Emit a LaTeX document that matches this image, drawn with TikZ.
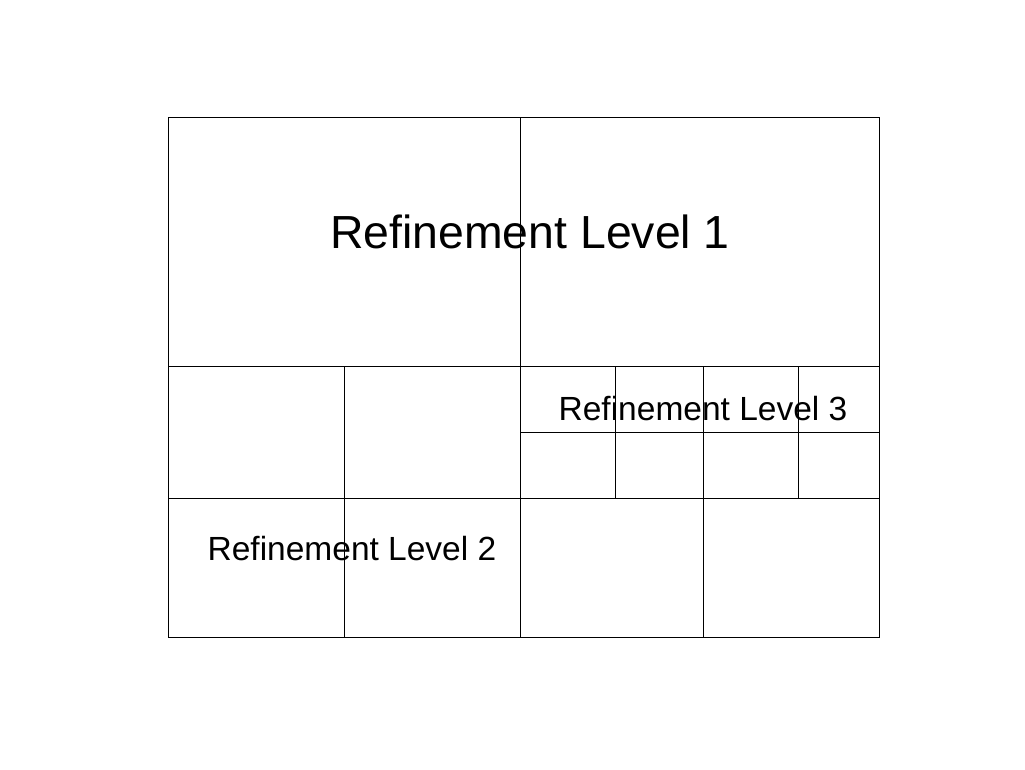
\documentclass[tikz,border=0pt]{standalone}
\usepackage{fontspec}
\setmainfont{Liberation Sans}
\begin{document}
\begin{tikzpicture}[x=1pt,y=-1pt,
  gridline/.style={draw=black,line width=1pt},
  biglabel/.style={font=\fontsize{46.4}{50}\selectfont,anchor=base,inner sep=0pt},
  smalllabel/.style={font=\fontsize{33.5}{36}\selectfont,anchor=base,inner sep=0pt}]
\useasboundingbox (0,0) rectangle (1025,769);
% outer frame
\draw[gridline] (168,117) rectangle (879,637);
% level 1 split
\draw[gridline] (520,117) -- (520,637);
\draw[gridline] (168,366) -- (879,366);
\draw[gridline] (168,498) -- (879,498);
% level 2 (left)
\draw[gridline] (344,366) -- (344,637);
% level 3 (right middle)
\draw[gridline] (615,366) -- (615,498);
\draw[gridline] (703,366) -- (703,637);
\draw[gridline] (798,366) -- (798,498);
\draw[gridline] (520,432) -- (879,432);
% labels
\node[biglabel] (l1) at (530,248) {Refinement Level 1};
\node[smalllabel] (l3) at (703,420) {Refinement Level 3};
\node[smalllabel] (l2) at (352,560) {Refinement Level 2};
\end{tikzpicture}
\end{document}
